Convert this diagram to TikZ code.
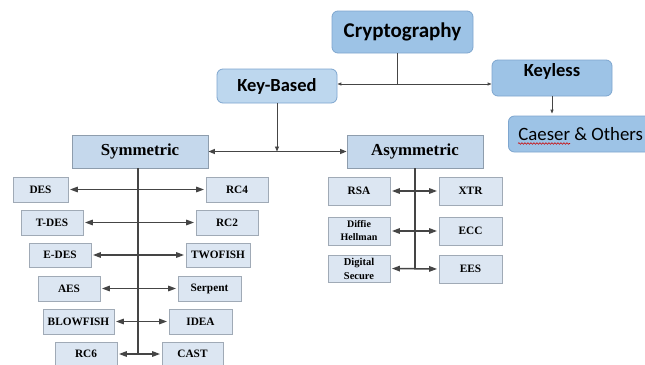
\documentclass[tikz,border=0pt]{standalone}
\usepackage{fontspec}
\setmainfont{Liberation Serif}
\newfontfamily\calfont{Carlito}
\usetikzlibrary{arrows.meta,decorations.pathmorphing}

\definecolor{topfill}{HTML}{9DC3E6}
\definecolor{topline}{HTML}{7EA6CF}
\definecolor{kbfill}{HTML}{BDD7EE}
\definecolor{midfill}{HTML}{C5D8EC}
\definecolor{midline}{HTML}{8E9DAD}
\definecolor{leaffill}{HTML}{DCE6F2}
\definecolor{leafline}{HTML}{A0AAB6}
\definecolor{linkgray}{HTML}{454545}

\tikzset{
  topbox/.style={draw=topline, line width=0.8pt, rounded corners=6pt, fill=topfill,
    inner sep=0pt, font=\calfont\bfseries\fontsize{18.5}{20}\selectfont},
  midbox/.style={draw=midline, line width=0.8pt, fill=midfill, inner sep=0pt,
    minimum width=136pt, minimum height=33pt, font=\bfseries\fontsize{16.8}{18}\selectfont},
  leaf/.style={draw=leafline, line width=0.8pt, fill=leaffill, inner sep=0pt,
    minimum height=25pt, font=\bfseries\fontsize{11.3}{12}\selectfont, align=center},
  toplink/.style={draw=linkgray, line width=0.9pt},
  smalltips/.style={{Triangle[length=4pt,width=3pt]}-{Triangle[length=4pt,width=3pt]}},
  link/.style={draw=linkgray, line width=1.5pt},
  twoway/.style={link, {Triangle[length=8pt,width=5.5pt]}-{Triangle[length=8pt,width=5.5pt]},
    shorten <=1.5pt, shorten >=1.5pt},
}

\begin{document}
\begin{tikzpicture}[x=1pt,y=-1pt]
\clip (0,0) rectangle (645,364);
\fill[white] (0,0) rectangle (645,364);

% ---- top level ----
\node[topbox, minimum width=141pt, minimum height=42pt,
      font=\calfont\bfseries\fontsize{21}{23}\selectfont] (cr) at (402.5,32) {Cryptography};
\node[topbox, fill=kbfill, minimum width=120pt, minimum height=34pt] (kb) at (277,86) {Key-Based};
\node[topbox, minimum width=120pt, minimum height=36pt] (kl) at (552,78) {};
\node[font=\calfont\bfseries\fontsize{18.5}{20}\selectfont, inner sep=0pt] (klt) at (552,71) {Keyless};
\node[topbox, font=\calfont\fontsize{18.8}{20}\selectfont, anchor=west,
      minimum height=36pt, inner xsep=10pt] (cs) at (508,134) {Caeser \& Others};
\draw[red!80!black, line width=0.6pt, decorate,
      decoration={snake, amplitude=0.8pt, segment length=3pt}] (518,143.5) -- (570,143.5);

\coordinate (j1) at (397,84);
\draw[toplink] (cr.south -| j1) -- (j1);
\draw[toplink, smalltips] (kb.east |- j1) -- (kl.west |- j1);
\draw[toplink, -{Triangle[length=4pt,width=3pt]}, shorten >=2pt] (kl.south) -- (cs.north -| kl.south);

% ---- second level ----
\node[midbox] (sym) at (140,151.5) {Symmetric};
\node[midbox] (asym) at (415,151.5) {Asymmetric};
\draw[toplink, -{Triangle[length=5pt,width=4pt]}] (kb.south) -- (kb.south |- sym.east);
\draw[link, line width=1.2pt, {Triangle[length=6.5pt,width=5pt]}-{Triangle[length=6.5pt,width=5pt]}]
  (sym.east) -- (asym.west);

% ---- symmetric ciphers ----
\node[leaf, minimum width=55pt] (des) at (40.5,189.5) {DES};
\node[leaf, minimum width=62pt] (rc4) at (237,189.5) {RC4};
\node[leaf, minimum width=62pt] (tdes) at (52,222.5) {T-DES};
\node[leaf, minimum width=62pt] (rc2) at (227,222.5) {RC2};
\node[leaf, minimum width=62pt, minimum height=24pt] (edes) at (60,255) {E-DES};
\node[leaf, minimum width=64pt, minimum height=24pt] (twofish) at (218,255) {TWOFISH};
\node[leaf, minimum width=62pt] (aes) at (69,288.5) {AES};
\node[leaf, minimum width=63pt] (serpent) at (209.5,288.5) {Serpent};
\node[leaf, minimum width=71pt] (blowfish) at (78.5,321.5) {BLOWFISH};
\node[leaf, minimum width=63pt] (idea) at (200.5,321.5) {IDEA};
\node[leaf, minimum width=62pt, minimum height=23pt] (rc6) at (86,354) {RC6};
\node[leaf, minimum width=61pt, minimum height=23pt] (cast) at (192.5,354) {CAST};

\coordinate (sv) at (138,354);
\draw[link, line width=1.2pt] (sym.south -| sv) -- (sv);
\foreach \a/\b in {des/rc4, tdes/rc2, edes/twofish, aes/serpent, blowfish/idea, rc6/cast}
  \draw[twoway] (\a.east) -- (\b.west);

% ---- asymmetric ciphers ----
\node[leaf, minimum width=62pt, minimum height=28pt] (rsa) at (359,191) {RSA};
\node[leaf, minimum width=63pt, minimum height=28pt] (xtr) at (470.5,191) {XTR};
\node[leaf, minimum width=62pt, minimum height=28pt, font=\bfseries\fontsize{10}{13}\selectfont] (dh) at (359,231) {Diffie\\Hellman};
\node[leaf, minimum width=63pt, minimum height=28pt] (ecc) at (470.5,231) {ECC};
\node[leaf, minimum width=62pt, minimum height=27pt, font=\bfseries\fontsize{10.5}{14}\selectfont] (ds) at (359,268.5) {Digital\\Secure};
\node[leaf, minimum width=63pt, minimum height=28pt] (ees) at (470.5,269) {EES};

\draw[link, line width=1.2pt] (asym.south) -- (asym.south |- ds.east);
\foreach \a/\b in {rsa/xtr, dh/ecc, ds/ees}
  \draw[twoway] (\a.east) -- (\b.west);
\end{tikzpicture}
\end{document}
